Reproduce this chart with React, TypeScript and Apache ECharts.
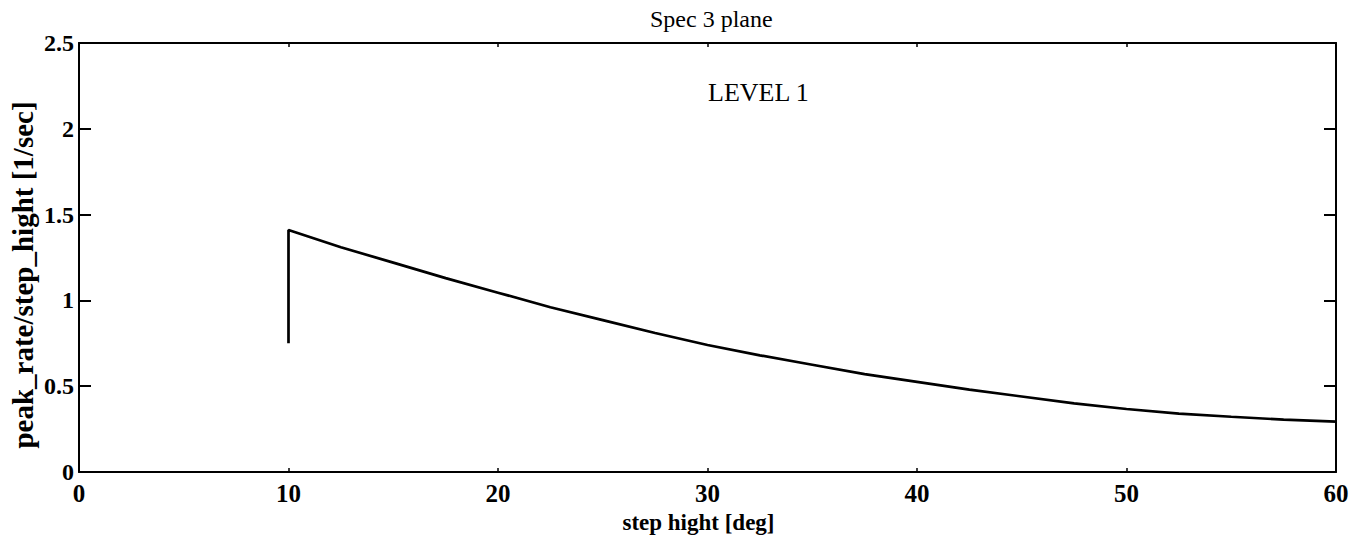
import React, { useEffect, useRef } from "react";
import * as echarts from "echarts";

const titleText = "Spec 3 plane";
const levelText = "LEVEL 1";
const xName = "step hight [deg]";
const yName = "peak_rate/step_hight [1/sec]";

const stepHight = [10, 10, 12.5, 15, 17.5, 20, 22.5, 25, 27.5, 30, 32.5, 35, 37.5, 40, 42.5, 45, 47.5, 50, 52.5, 55, 57.5, 60];
const peakRate = [0.75, 1.41, 1.31, 1.22, 1.13, 1.045, 0.96, 0.885, 0.81, 0.74, 0.68, 0.625, 0.57, 0.525, 0.48, 0.44, 0.4, 0.367, 0.34, 0.322, 0.305, 0.293];

const FONT = '"Liberation Serif", "Times New Roman", serif';

export default function App() {
  const ref = useRef<HTMLDivElement>(null);
  useEffect(() => {
    if (!ref.current) return;
    const chart = echarts.init(ref.current, null, { renderer: "svg" });
    const axisLine = { show: true, onZero: false, lineStyle: { color: "#000", width: 2 } };
    chart.setOption({
      animation: false,
      backgroundColor: "#fff",
      title: {
        text: titleText,
        left: 645,
        top: 2,
        textStyle: { fontFamily: FONT, fontSize: 24, fontWeight: "normal", color: "#000" },
      },
      grid: { left: 79, right: 28, top: 43, bottom: 67, containLabel: false },
      xAxis: [
        {
          type: "value",
          min: 0,
          max: 60,
          interval: 10,
          position: "bottom",
          name: xName,
          nameLocation: "middle",
          nameGap: 30,
          nameTextStyle: { fontFamily: FONT, fontSize: 23, fontWeight: "bold", color: "#000", padding: [0, 18, 0, 0] },
          axisLine,
          axisTick: { show: true, inside: true, length: 4, lineStyle: { color: "#000", width: 1.5 } },
          axisLabel: { fontFamily: FONT, fontSize: 25, fontWeight: "bold", color: "#000", margin: 9 },
          splitLine: { show: false },
        },
        {
          type: "value",
          min: 0,
          max: 60,
          interval: 10,
          position: "top",
          axisLine,
          axisTick: { show: true, inside: true, length: 4, lineStyle: { color: "#000", width: 1.5 } },
          axisLabel: { show: false },
          splitLine: { show: false },
        },
      ],
      yAxis: [
        {
          type: "value",
          min: 0,
          max: 2.5,
          interval: 0.5,
          position: "left",
          axisLine,
          axisTick: { show: true, inside: true, length: 12, lineStyle: { color: "#000", width: 2 } },
          axisLabel: { fontFamily: FONT, fontSize: 24, fontWeight: "bold", color: "#000", margin: 5 },
          splitLine: { show: false },
        },
        {
          type: "value",
          min: 0,
          max: 2.5,
          interval: 0.5,
          position: "right",
          axisLine,
          axisTick: { show: true, inside: true, length: 12, lineStyle: { color: "#000", width: 2 } },
          axisLabel: { show: false },
          splitLine: { show: false },
        },
      ],
      graphic: [
        {
          type: "text",
          left: 708,
          top: 79,
          style: { text: levelText, font: `26px ${FONT}`, fill: "#000" },
        },
        {
          type: "text",
          x: 23,
          y: 275,
          rotation: Math.PI / 2,
          style: {
            text: yName,
            font: `bold 29px ${FONT}`,
            fill: "#000",
            align: "center",
            verticalAlign: "middle",
          },
        },
      ],
      series: [
        {
          type: "line",
          data: stepHight.map((x, i) => [x, peakRate[i]]),
          showSymbol: false,
          symbol: "none",
          smooth: false,
          lineStyle: { color: "#000", width: 2.7 },
        },
      ],
    });
    return () => chart.dispose();
  }, []);
  return (
    <div
      ref={ref}
      style={{ position: "fixed", left: 0, top: 0, width: 1364, height: 539, background: "#fff" }}
    />
  );
}
